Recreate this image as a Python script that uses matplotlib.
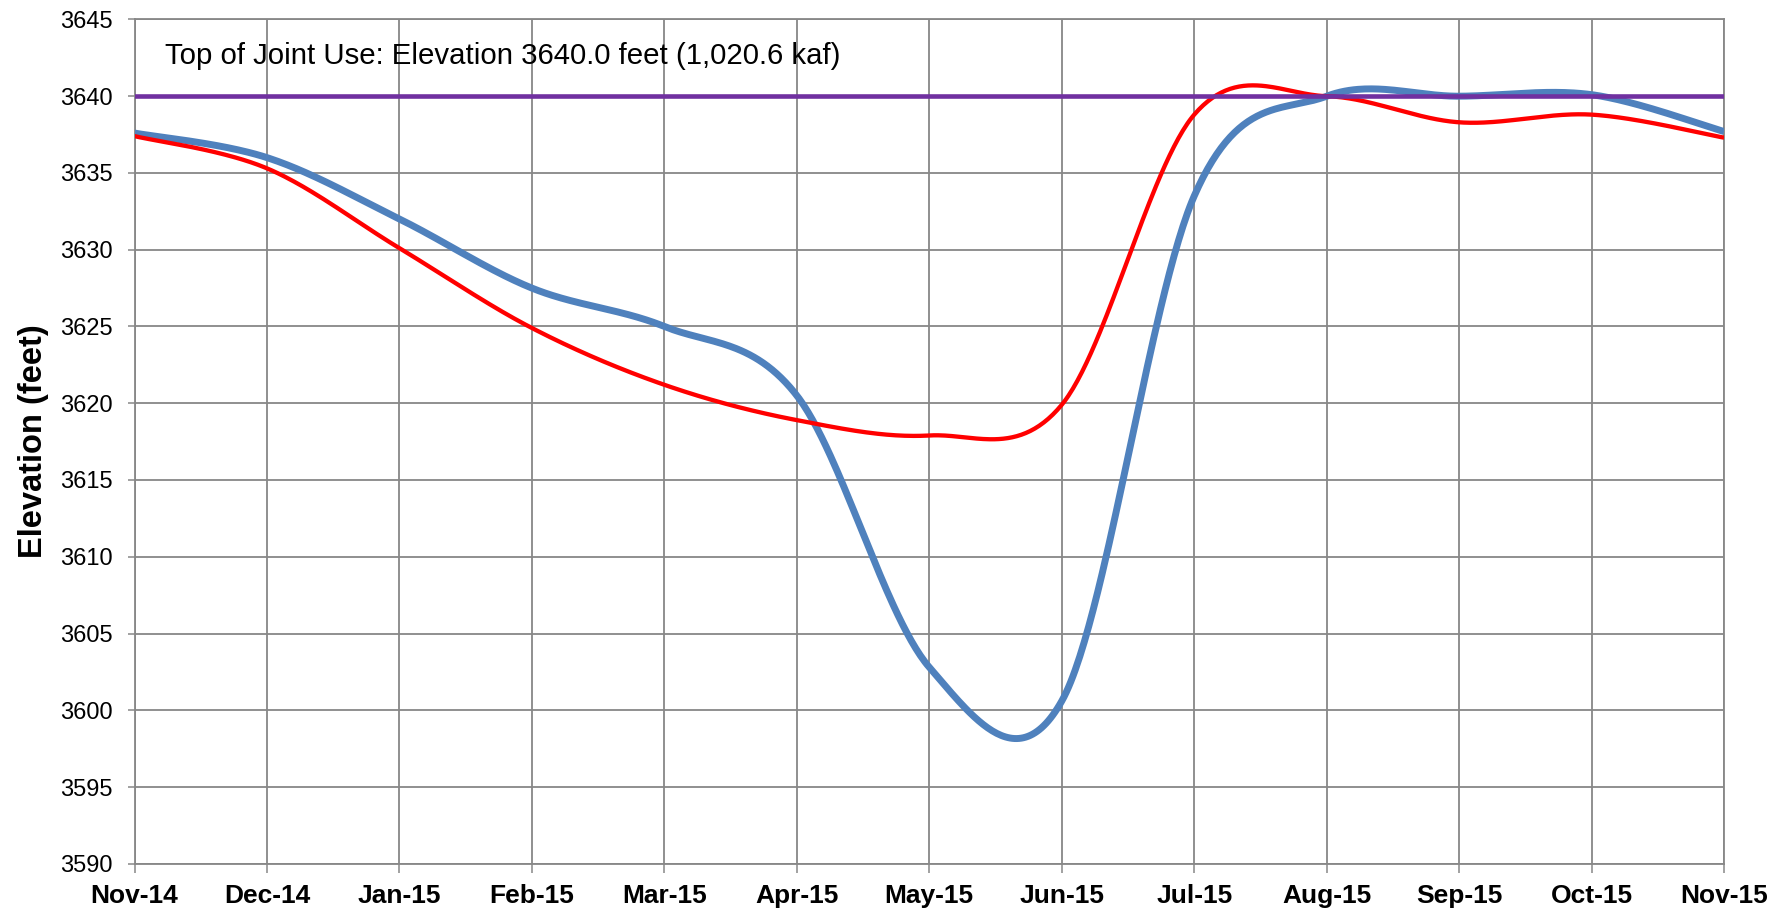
import matplotlib
matplotlib.use("Agg")
import matplotlib.pyplot as plt
import numpy as np

# ---- data (end-of-month elevations, feet) ----
MONTHS = ["Nov-14", "Dec-14", "Jan-15", "Feb-15", "Mar-15", "Apr-15", "May-15",
          "Jun-15", "Jul-15", "Aug-15", "Sep-15", "Oct-15", "Nov-15"]
BLUE = [3637.6, 3636.0, 3632.0, 3627.5, 3625.0, 3620.5, 3602.8,
        3600.6, 3633.5, 3640.0, 3640.0, 3640.1, 3637.7]
RED = [3637.4, 3635.3, 3630.1, 3624.9, 3621.2, 3618.9, 3617.9,
       3619.9, 3638.8, 3640.0, 3638.3, 3638.8, 3637.3]
TOP_JOINT_USE = 3640.0
NOTE = "Top of Joint Use: Elevation 3640.0 feet (1,020.6 kaf)"
YTICKS = list(range(3590, 3646, 5))


def excel_smooth(x, y, n=60):
    """Bezier smoothing like Excel's 'smoothed line' (Catmull-Rom control points)."""
    p = np.column_stack([x, y]).astype(float)
    p = np.vstack([p[0], p, p[-1]])
    out = []
    t = np.linspace(0, 1, n)[:, None]
    for i in range(1, len(p) - 2):
        p0, p1, p2, p3 = p[i - 1], p[i], p[i + 1], p[i + 2]
        c1 = p1 + (p2 - p0) / 6.0
        c2 = p2 - (p3 - p1) / 6.0
        seg = ((1 - t) ** 3) * p1 + 3 * ((1 - t) ** 2) * t * c1 \
            + 3 * (1 - t) * t ** 2 * c2 + t ** 3 * p2
        out.append(seg if i == 1 else seg[1:])
    s = np.vstack(out)
    return s[:, 0], s[:, 1]


plt.rcParams["font.family"] = ["Liberation Sans", "DejaVu Sans"]
GRID = "#878787"

fig = plt.figure(figsize=(17.89, 9.13), dpi=100)
ax = fig.add_axes([0.0752, 0.0539, 0.8885, 0.9248])

x = np.arange(len(MONTHS))
bx, by = excel_smooth(x, BLUE)
rx, ry = excel_smooth(x, RED)
ax.plot(bx, by, color="#4F81BD", lw=5.0, solid_capstyle="butt", zorder=3)
ax.plot(rx, ry, color="#FF0000", lw=3.1, solid_capstyle="butt", zorder=4)
ax.axhline(TOP_JOINT_USE, color="#7030A0", lw=3.3, zorder=5)

ax.text(0.233, 3642.6, NOTE, fontsize=21.2, va="center", ha="left", zorder=6)

ax.set_xlim(0, len(MONTHS) - 1)
ax.set_ylim(YTICKS[0], YTICKS[-1])
ax.set_xticks(x)
ax.set_xticklabels(MONTHS, fontsize=19, fontweight="bold")
ax.set_yticks(YTICKS)
ax.set_yticklabels([str(v) for v in YTICKS], fontsize=17)
ax.tick_params(axis="x", length=6.5, width=1.1, color=GRID, pad=8)
ax.tick_params(axis="y", length=5, width=1.1, color=GRID, pad=11)
ax.set_ylabel("Elevation (feet)", fontsize=23.5, fontweight="bold", labelpad=8)

ax.grid(True, color=GRID, lw=1.3, zorder=1)
ax.set_axisbelow(True)
for s in ax.spines.values():
    s.set_color(GRID)
    s.set_linewidth(1.3)

fig.savefig("out.png", dpi=100)
